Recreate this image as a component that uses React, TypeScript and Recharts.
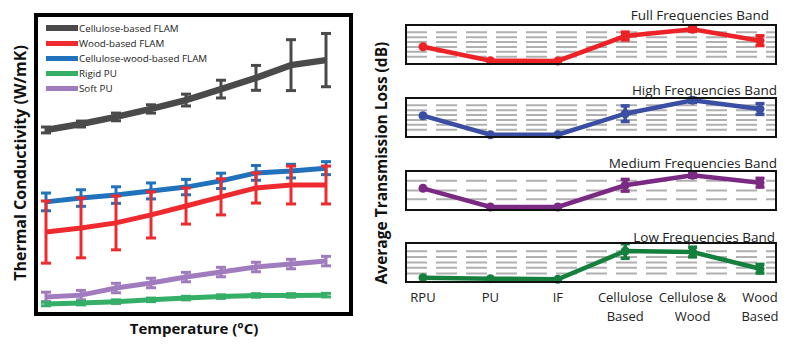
import React from 'react';
import { LineChart, Line, XAxis, YAxis, ErrorBar, CartesianGrid, Legend } from 'recharts';

// left panel: thermal conductivity vs temperature (no tick values printed, arbitrary units)
const temperatureSteps = ['t1', 't2', 't3', 't4', 't5', 't6', 't7', 't8', 't9'];
const cellulose = [61.5, 63.5, 65.9, 68.6, 71.6, 75.3, 79.1, 83.4, 85.1];
const celluloseErr = [1, 1, 1.3, 1.4, 2, 3, 4.2, 8.6, 9];
const wood = [27.0, 28.4, 30.1, 32.8, 35.8, 38.9, 41.9, 42.9, 42.9];
const woodErr = [10.5, 10.1, 9.1, 7.8, 6.1, 6.1, 5.1, 6.4, 6.4];
const celluloseWood = [37.2, 38.5, 39.5, 40.9, 42.2, 44.3, 47.0, 47.6, 48.6];
const celluloseWoodErr = [3, 2.8, 2.8, 2.7, 2.6, 2.6, 2.5, 2.3, 2.2];
const rigidPu = [2.7, 3.0, 3.5, 4.1, 4.7, 5.2, 5.6, 5.6, 5.7];
const rigidPuErr = [0.6, 0.6, 0.6, 0.6, 0.6, 0.6, 0.6, 0.6, 0.6];
const softPu = [5.1, 5.7, 8.1, 9.8, 11.8, 13.5, 15.2, 16.2, 17.2];
const softPuErr = [1.6, 1.6, 1.6, 1.6, 1.6, 1.6, 1.6, 1.6, 1.6];

// right panels: average transmission loss per material
const materials = ['RPU', 'PU', 'IF', 'Cellulose\nBased', 'Cellulose &\nWood', 'Wood\nBased'];
const fullBand = [3.55, 0.68, 0.62, 5.74, 7.12, 4.78];
const fullBandErr = [0, 0, 0, 0.8, 0.4, 1.0];
const highBand = [4.37, 0.47, 0.47, 4.78, 7.53, 5.74];
const highBandErr = [0, 0, 0, 1.6, 0.4, 1.1];
const mediumBand = [4.45, 0.62, 0.62, 5.07, 7.12, 5.6];
const mediumBandErr = [0, 0, 0, 1.2, 0.4, 0.9];
const lowBand = [0.88, 0.68, 0.55, 6.36, 6.15, 2.73];
const lowBandErr = [0, 0, 0, 1.5, 1.0, 0.9];
const BAND_MAX = 8;

const conductivityRows = temperatureSteps.map((t, i) => ({
  t,
  cellulose: cellulose[i], celluloseErr: celluloseErr[i],
  wood: wood[i], woodErr: woodErr[i],
  celluloseWood: celluloseWood[i], celluloseWoodErr: celluloseWoodErr[i],
  rigidPu: rigidPu[i], rigidPuErr: rigidPuErr[i],
  softPu: softPu[i], softPuErr: softPuErr[i],
}));

const conductivitySeries = [
  { key: 'cellulose', name: 'Cellulose-based FLAM', color: '#4a4a4a', width: 6.5 },
  { key: 'celluloseWood', name: 'Cellulose-wood-based FLAM', color: '#1f72bb', width: 5 },
  { key: 'wood', name: 'Wood-based FLAM', color: '#ee2a2e', width: 5 },
  { key: 'softPu', name: 'Soft PU', color: '#a07cbf', width: 5 },
  { key: 'rigidPu', name: 'Rigid PU', color: '#35ae68', width: 5 },
];
const legendOrder = ['cellulose', 'wood', 'celluloseWood', 'rigidPu', 'softPu'];

const bands = [
  { title: 'Full Frequencies Band', values: fullBand, errors: fullBandErr, color: '#ec2227', top: 25, titleY: 15, titleRight: 769, ticks: [1.5, 2.5, 3.5, 4.5, 5.5, 6.5] },
  { title: 'High Frequencies Band', values: highBand, errors: highBandErr, color: '#3a4fa3', top: 98, titleY: 90, titleRight: 777, ticks: [1.5, 2.5, 3.5, 4.5, 5.5, 6.5] },
  { title: 'Medium Frequencies Band', values: mediumBand, errors: mediumBandErr, color: '#7b2a83', top: 171, titleY: 163, titleRight: 777, ticks: [2.2, 4, 6] },
  { title: 'Low Frequencies Band', values: lowBand, errors: lowBandErr, color: '#15803e', top: 243, titleY: 237, titleRight: 775, ticks: [1.75, 2.9, 4, 5.15, 6.3] },
];

const FONT = '"Open Sans", "Noto Sans", sans-serif';

const ConductivityLegend = () => (
  <div style={{ fontFamily: FONT, fontSize: 9.8, color: '#222' }}>
    {legendOrder.map((k) => {
      const s = conductivitySeries.find((x) => x.key === k)!;
      return (
        <div key={k} style={{ display: 'flex', alignItems: 'center', height: 15 }}>
          <span style={{ display: 'inline-block', width: 32, height: k === 'cellulose' ? 6 : 5, background: s.color, marginRight: 1 }} />
          <span>{s.name}</span>
        </div>
      );
    })}
  </div>
);

const MaterialTick = ({ x, y, payload }: any) => {
  const lines = String(payload.value).split('\n');
  return (
    <text x={x} y={y} textAnchor="middle" fontSize={13} fill="#222" fontFamily={FONT}>
      {lines.map((l, i) => (
        <tspan key={i} x={x} dy={i === 0 ? 12 : 19}>{l}</tspan>
      ))}
    </text>
  );
};

function BandPanel({ band, last }: { band: typeof bands[number]; last: boolean }) {
  const rows = materials.map((m, i) => ({ m, v: band.values[i], e: band.errors[i] }));
  const h = last ? 10 + 39 + 45 : 59;
  // gridlines placed at the band's tick values, inside the plot area
  const gridRows = ({ yAxis, offset }: any) =>
    band.ticks.map((t) =>
      yAxis && typeof yAxis.scale === 'function'
        ? yAxis.scale(t)
        : offset.top + offset.height * (1 - t / BAND_MAX));
  return (
    <>
      <div style={{ position: 'absolute', left: 400, top: band.top - 10, width: 400, height: h }}>
        <LineChart width={400} height={h} data={rows} margin={{ top: 10, right: 24, bottom: last ? 0 : 10, left: 6 }}>
          <CartesianGrid vertical={false} stroke="#b0b0b0" strokeWidth={2} strokeDasharray="21 9"
            horizontalCoordinatesGenerator={gridRows} />
          <XAxis dataKey="m" hide={!last} axisLine={false} tickLine={false} interval={0} height={45}
            padding={{ left: 17, right: 16 }} tick={<MaterialTick />} />
          <YAxis hide domain={[0, BAND_MAX]} ticks={band.ticks} />
          <Line dataKey="v" stroke={band.color} strokeWidth={4.5} isAnimationActive={false}
            dot={{ r: 4.5, fill: band.color, stroke: 'none' }} activeDot={false}>
            <ErrorBar dataKey="e" width={4.5} strokeWidth={3.5} stroke={band.color} />
          </Line>
        </LineChart>
      </div>
      <div style={{ position: 'absolute', left: 405, top: band.top - 1, width: 372, height: 41, border: '2px solid #111', boxSizing: 'border-box' }} />
      <div style={{ position: 'absolute', right: 800 - band.titleRight, top: band.titleY - 10, fontSize: 13.5, lineHeight: '20px', color: '#222', whiteSpace: 'nowrap' }}>
        {band.title}
      </div>
    </>
  );
}

export default function App() {
  return (
    <div style={{ position: 'absolute', left: 0, top: 0, width: 800, height: 348, background: '#fff', fontFamily: FONT, overflow: 'hidden' }}>
      <div style={{ position: 'absolute', left: 0, top: 0, width: 360, height: 348 }}>
        <LineChart width={360} height={348} data={conductivityRows} margin={{ top: 16, right: 10, bottom: 36, left: 36 }}>
          <XAxis dataKey="t" hide padding={{ left: 10, right: 24 }} />
          <YAxis hide domain={[0, 100]} />
          {conductivitySeries.map((s) => (
            <Line key={s.key} dataKey={s.key} name={s.name} stroke={s.color} strokeWidth={s.width}
              dot={false} activeDot={false} isAnimationActive={false}>
              <ErrorBar dataKey={`${s.key}Err`} width={5} strokeWidth={3} stroke={s.color} />
            </Line>
          ))}
          <Legend layout="vertical" align="center" verticalAlign="middle"
            wrapperStyle={{ left: 46, top: 20.5, width: 220, height: 80 }} content={() => <ConductivityLegend />} />
        </LineChart>
      </div>
      <div style={{ position: 'absolute', left: 34, top: 13, width: 319, height: 303, border: '4px solid #000', boxSizing: 'border-box' }} />
      <div style={{ position: 'absolute', left: 20 - 150, top: 163 - 11, width: 300, height: 22, lineHeight: '22px', textAlign: 'center', transform: 'rotate(-90deg)', fontWeight: 700, fontSize: 16, color: '#111' }}>
        Thermal Conductivity (W/mK)
      </div>
      <div style={{ position: 'absolute', left: 94, top: 317, width: 200, height: 22, lineHeight: '22px', textAlign: 'center', fontWeight: 700, fontSize: 15, color: '#111' }}>
        Temperature (°C)
      </div>

      {bands.map((b, i) => (
        <BandPanel key={b.title} band={b} last={i === bands.length - 1} />
      ))}
      <div style={{ position: 'absolute', left: 381 - 160, top: 163 - 11, width: 320, height: 22, lineHeight: '22px', textAlign: 'center', transform: 'rotate(-90deg)', fontWeight: 700, fontSize: 15.5, color: '#111' }}>
        Average Transmission Loss (dB)
      </div>
    </div>
  );
}
